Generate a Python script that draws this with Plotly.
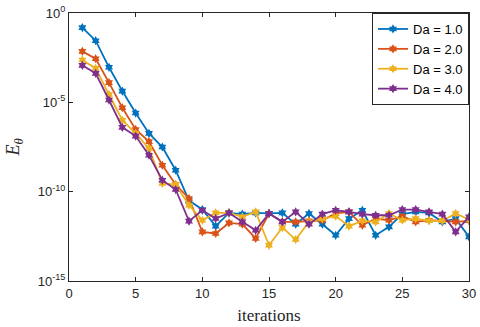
import plotly.graph_objects as go

iterations = list(range(1, 31))

# log10 of E_theta
da1 = [-0.82, -1.55, -3.04, -4.37, -5.6, -6.74, -7.5, -8.8, -10.5, -11.0,
       -11.93, -11.19, -11.26, -11.19, -11.22, -11.19, -11.82, -11.22, -11.82, -12.44,
       -11.51, -11.04, -12.44, -11.97, -11.26, -11.13, -11.19, -11.69, -11.51, -12.53]
da2 = [-2.15, -2.56, -3.9, -5.3, -6.52, -7.2, -8.52, -9.6, -10.38, -12.25,
       -12.34, -11.75, -11.82, -12.62, -11.22, -11.69, -11.69, -11.63, -11.6, -11.22,
       -11.13, -11.88, -11.51, -11.6, -11.37, -11.69, -11.6, -11.63, -11.69, -11.63]
da3 = [-2.63, -3.1, -4.56, -6.0, -6.74, -7.58, -9.54, -9.6, -10.76, -11.6,
       -11.19, -11.19, -11.41, -11.13, -13.0, -12.01, -12.68, -11.69, -11.51, -11.37,
       -11.93, -11.63, -11.69, -11.22, -11.6, -11.51, -11.63, -11.63, -11.22, -11.56]
da4 = [-2.93, -3.38, -4.87, -6.4, -6.89, -7.96, -9.36, -9.88, -11.65, -11.04,
       -11.5, -11.19, -11.69, -12.16, -11.22, -11.69, -11.13, -11.82, -11.26, -11.04,
       -11.13, -11.26, -11.32, -11.32, -11.0, -11.0, -11.13, -11.26, -12.25, -11.41]

names = ['Da = 1.0', 'Da = 2.0', 'Da = 3.0', 'Da = 4.0']
colors = ['#0072BD', '#D95319', '#EDB120', '#7E2F8E']

y_ticks = [0, -5, -10, -15]
y_labels = ['10<sup>0</sup>', '10<sup>-5</sup>', '10<sup>-10</sup>', '10<sup>-15</sup>']

fig = go.Figure()
for name, col, vals in zip(names, colors, [da1, da2, da3, da4]):
    fig.add_trace(go.Scatter(
        x=iterations, y=[10 ** v for v in vals], name=name,
        mode='lines+markers',
        line=dict(color=col, width=1.8),
        marker=dict(symbol='hexagram', size=7, color=col)))

axis_common = dict(showline=True, linecolor='#262626', linewidth=1, mirror='ticks',
                   ticks='inside', ticklen=4, tickcolor='#262626', showgrid=False,
                   zeroline=False, automargin=False, ticklabeloverflow='allow',
                   tickfont=dict(family='Liberation Sans', size=13, color='#262626'))

fig.update_layout(
    width=480, height=327,
    margin=dict(l=69, r=11, t=13, b=46),
    plot_bgcolor='white', paper_bgcolor='white',
    xaxis=dict(range=[0, 30], tickvals=[0, 5, 10, 15, 20, 25, 30],
               title=dict(text='iterations', standoff=9,
                          font=dict(family='Liberation Serif', size=17, color='#262626')),
               **axis_common),
    yaxis=dict(type='log', range=[-15, 0], tickvals=[10 ** t for t in y_ticks],
               ticktext=y_labels,
               title=dict(text='<i>E</i><sub><i>θ</i></sub>', standoff=13,
                          font=dict(family='Liberation Serif', size=18, color='#262626')),
               **axis_common),
    legend=dict(x=1, xanchor='right', y=1, yanchor='top', bgcolor='white',
                bordercolor='#262626', borderwidth=1,
                font=dict(family='Liberation Sans', size=13, color='black'),
                tracegroupgap=0, itemwidth=30),
)

# drop the default page margin so the figure fills the window exactly
fig.write_html("out.html", config={'displayModeBar': False},
               post_script="document.body.style.margin='0';")
